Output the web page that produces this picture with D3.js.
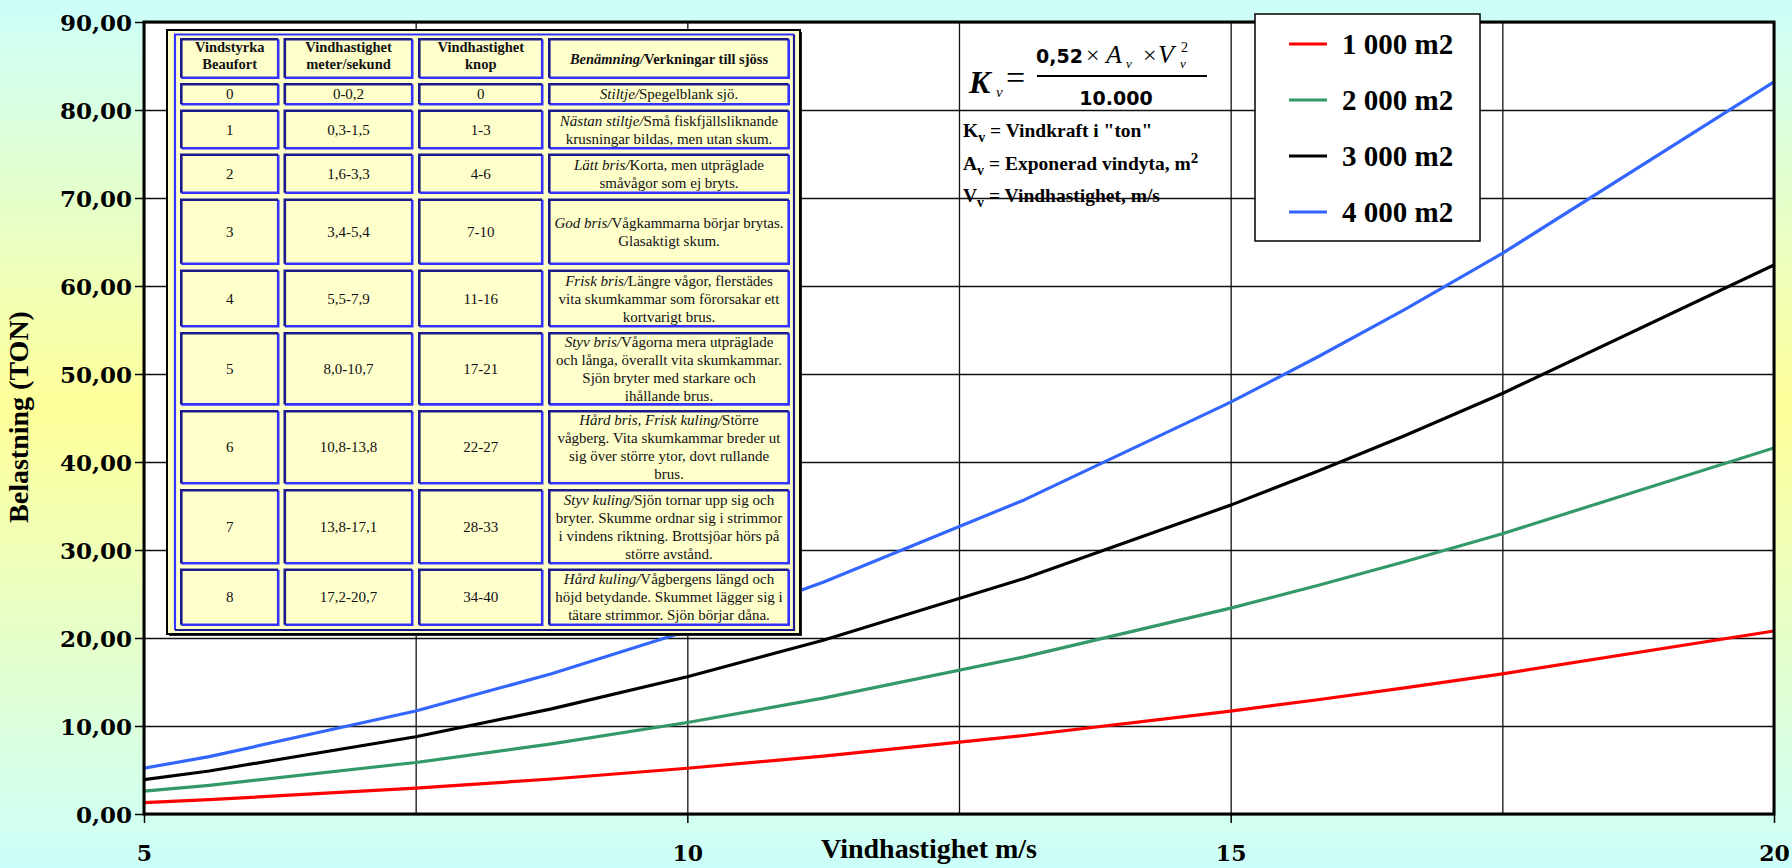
<!DOCTYPE html>
<html>
<head>
<meta charset="utf-8">
<script src="https://cdn.jsdelivr.net/npm/d3@7"></script>
<style>
  html, body { margin: 0; padding: 0; background: #ffffff; }
  svg { display: block; }
</style>
</head>
<body>
<svg id="chart" width="1792" height="868"></svg>
<script>
// ---- Data -------------------------------------------------------------
// Wind speed (m/s) at each plotted point
const windSpeed = [5, 5.6, 7.5, 8.75, 10, 11.25, 13.1, 15, 15.8, 16.6, 17.5, 20];
// Wind load (ton) for each exposed area
const load1000 = [1.30, 1.63, 2.93, 3.98, 5.20, 6.58, 8.92, 11.70, 12.98, 14.33, 15.93, 20.80];
const load2000 = [2.60, 3.26, 5.85, 7.96, 10.40, 13.16, 17.85, 23.40, 25.96, 28.66, 31.85, 41.60];
const load3000 = [3.90, 4.89, 8.78, 11.94, 15.60, 19.74, 26.77, 35.10, 38.94, 42.99, 47.78, 62.40];
const load4000 = [5.20, 6.52, 11.70, 15.93, 20.80, 26.33, 35.69, 46.80, 51.93, 57.32, 63.70, 83.20];
const seriesNames = ["1 000 m2", "2 000 m2", "3 000 m2", "4 000 m2"];

const yTicks = [0, 10, 20, 30, 40, 50, 60, 70, 80, 90];
const xTicks = [5, 10, 15, 20];
const xGrid = [5, 7.5, 10, 12.5, 15, 17.5, 20];

// Beaufort table
const beaufortHeader = [["Vindstyrka", "Beaufort"], ["Vindhastighet", "meter/sekund"], ["Vindhastighet", "knop"]];
const beaufortForce = ["0", "1", "2", "3", "4", "5", "6", "7", "8"];
const beaufortMs = ["0-0,2", "0,3-1,5", "1,6-3,3", "3,4-5,4", "5,5-7,9", "8,0-10,7", "10,8-13,8", "13,8-17,1", "17,2-20,7"];
const beaufortKnots = ["0", "1-3", "4-6", "7-10", "11-16", "17-21", "22-27", "28-33", "34-40"];
const beaufortNames = ["Stiltje/", "Nästan stiltje/", "Lätt bris/", "God bris/", "Frisk bris/", "Styv bris/",
  "Hård bris, Frisk kuling/", "Styv kuling/", "Hård kuling/"];
const beaufortEffects = [
  ["Spegelblank sjö."],
  ["Små fiskfjällsliknande", "krusningar bildas, men utan skum."],
  ["Korta, men utpräglade", "småvågor som ej bryts."],
  ["Vågkammarna börjar brytas.", "Glasaktigt skum."],
  ["Längre vågor, flerstädes", "vita skumkammar som förorsakar ett", "kortvarigt brus."],
  ["Vågorna mera utpräglade", "och långa, överallt vita skumkammar.", "Sjön bryter med starkare och", "ihållande brus."],
  ["Större", "vågberg. Vita skumkammar breder ut", "sig över större ytor, dovt rullande", "brus."],
  ["Sjön tornar upp sig och", "bryter. Skumme ordnar sig i strimmor", "i vindens riktning. Brottsjöar hörs på", "större avstånd."],
  ["Vågbergens längd och", "höjd betydande. Skummet lägger sig i", "tätare strimmor. Sjön börjar dåna."]
];

// ---- Layout & style ----------------------------------------------------
const W = 1792, H = 868;
const plot = { left: 144, right: 1774, top: 22, bottom: 814 };
const colors = ["#ff0000", "#339966", "#000000", "#3366ff"];
const serif = "'Liberation Serif', 'Times New Roman', serif";
const tickFont = "'DejaVu Serif', serif";

const svg = d3.select("#chart");

// page background: cyan - yellow - cyan
const defs = svg.append("defs");
const grad = defs.append("linearGradient").attr("id", "bg").attr("x1", 0).attr("y1", 0).attr("x2", 0).attr("y2", 1);
grad.append("stop").attr("offset", "0%").attr("stop-color", "#ccfffa");
grad.append("stop").attr("offset", "47%").attr("stop-color", "#ffff99");
grad.append("stop").attr("offset", "100%").attr("stop-color", "#ccfffa");
svg.append("rect").attr("width", W).attr("height", H).attr("fill", "url(#bg)");

defs.append("clipPath").attr("id", "plotClip").append("rect")
  .attr("x", plot.left).attr("y", plot.top)
  .attr("width", plot.right - plot.left).attr("height", plot.bottom - plot.top);

const x = d3.scaleLinear().domain([5, 20]).range([plot.left, plot.right]);
const y = d3.scaleLinear().domain([0, 90]).range([plot.bottom, plot.top]);

// plot area
svg.append("rect").attr("x", plot.left).attr("y", plot.top)
  .attr("width", plot.right - plot.left).attr("height", plot.bottom - plot.top)
  .attr("fill", "#ffffff");

// gridlines
const gridV = svg.append("g").attr("transform", `translate(0,${plot.bottom})`)
  .call(d3.axisBottom(x).tickValues(xGrid).tickSize(-(plot.bottom - plot.top)).tickFormat(""));
const gridH = svg.append("g").attr("transform", `translate(${plot.left},0)`)
  .call(d3.axisLeft(y).tickValues(yTicks).tickSize(-(plot.right - plot.left)).tickFormat(""));
[gridV, gridH].forEach(g => {
  g.select(".domain").remove();
  g.selectAll("line").attr("stroke", "#111").attr("stroke-width", 1.3);
});

// series lines
const seriesData = [load1000, load2000, load3000, load4000];
const line = d3.line().x((d, i) => x(windSpeed[i])).y(d => y(d));
svg.append("g").attr("clip-path", "url(#plotClip)")
  .selectAll("path").data(seriesData).join("path")
  .attr("d", d => line(d))
  .attr("fill", "none")
  .attr("stroke", (d, i) => colors[i])
  .attr("stroke-width", 3.2)
  .attr("stroke-linejoin", "round");

// plot border
svg.append("rect").attr("x", plot.left).attr("y", plot.top)
  .attr("width", plot.right - plot.left).attr("height", plot.bottom - plot.top)
  .attr("fill", "none").attr("stroke", "#000").attr("stroke-width", 3);

// y axis
const fmt = v => d3.format(".2f")(v).replace(".", ",");
const yAxis = svg.append("g").attr("transform", `translate(${plot.left},0)`)
  .call(d3.axisLeft(y).tickValues(yTicks).tickSize(9).tickPadding(3).tickFormat(fmt));
yAxis.select(".domain").remove();
yAxis.selectAll("line").attr("stroke", "#000").attr("stroke-width", 1.5);
yAxis.selectAll("text").attr("font-family", tickFont).attr("font-weight", "bold")
  .attr("font-size", 23).attr("fill", "#000").attr("dy", "0.36em");

// x axis
const xAxis = svg.append("g").attr("transform", `translate(0,${plot.bottom})`)
  .call(d3.axisBottom(x).tickValues(xTicks).tickSize(9).tickFormat(d3.format("d")));
xAxis.select(".domain").remove();
xAxis.selectAll("line").attr("stroke", "#000").attr("stroke-width", 1.5);
xAxis.selectAll("text").attr("font-family", tickFont).attr("font-weight", "bold")
  .attr("font-size", 22).attr("fill", "#000").attr("y", 47).attr("dy", 0);

// axis titles
svg.append("text").attr("x", 929).attr("y", 858).attr("text-anchor", "middle")
  .attr("font-family", serif).attr("font-weight", "bold").attr("font-size", 28)
  .text("Vindhastighet m/s");
svg.append("text").attr("transform", "translate(28,417) rotate(-90)").attr("text-anchor", "middle")
  .attr("font-family", serif).attr("font-weight", "bold").attr("font-size", 28)
  .text("Belastning (TON)");

// ---- Beaufort table -----------------------------------------------------
const frame = { x: 167, y: 30, w: 633, h: 604 };
const tbox = { x: 175, y: 34.5, w: 619, h: 595.5 };
const cols = [[180, 279.5], [283.5, 413.5], [418, 543.5], [548, 790]];
const rows = [[38, 79], [83, 105.5], [109.5, 149.5], [153.5, 194], [198.5, 265], [269.5, 327.5],
  [332, 405.7], [410, 484.5], [489, 564.5], [568.5, 626]];
const navy = "#1a1a8c", blue = "#3333ff", cellFill = "#ffffcc";

const tg = svg.append("g").attr("class", "beaufort");
tg.append("rect").attr("x", frame.x + 2).attr("y", frame.y + 2).attr("width", frame.w).attr("height", frame.h)
  .attr("fill", "#222");
tg.append("rect").attr("x", frame.x).attr("y", frame.y).attr("width", frame.w).attr("height", frame.h)
  .attr("fill", cellFill).attr("stroke", "#000").attr("stroke-width", 2);
// outer table border (light top/left, dark bottom/right)
const tb = tbox;
tg.append("path").attr("d", `M${tb.x},${tb.y + tb.h}V${tb.y}H${tb.x + tb.w}`)
  .attr("fill", "none").attr("stroke", blue).attr("stroke-width", 2.2);
tg.append("path").attr("d", `M${tb.x + tb.w},${tb.y}V${tb.y + tb.h}H${tb.x}`)
  .attr("fill", "none").attr("stroke", navy).attr("stroke-width", 2.2);

function cell(c, r) {
  const [x0, x1] = cols[c], [y0, y1] = rows[r];
  const bw = 2.6, h = bw / 2;
  tg.append("rect").attr("x", x0).attr("y", y0).attr("width", x1 - x0).attr("height", y1 - y0).attr("fill", cellFill);
  tg.append("path").attr("d", `M${x1 - h},${y0 + h}V${y1 - h}H${x0 + h}`)
    .attr("fill", "none").attr("stroke", blue).attr("stroke-width", bw);
  tg.append("path").attr("d", `M${x0 + h},${y1 - h}V${y0 + h}H${x1 - h}`)
    .attr("fill", "none").attr("stroke", navy).attr("stroke-width", bw);
  return { cx: (x0 + x1) / 2, cy: (y0 + y1) / 2 };
}

const bodySize = 15, bodyLead = 18;
// header row
beaufortHeader.forEach((lines, c) => {
  const p = cell(c, 0);
  const t = tg.append("text").attr("text-anchor", "middle").attr("font-family", serif)
    .attr("font-weight", "bold").attr("font-size", 14.5).attr("fill", "#111");
  lines.forEach((ln, i) => t.append("tspan").attr("x", p.cx).attr("y", p.cy - 3 + (i - 0.5) * 16.5 + 5).text(ln));
});
{
  const p = cell(3, 0);
  const t = tg.append("text").attr("x", p.cx).attr("y", p.cy + 5).attr("text-anchor", "middle")
    .attr("font-family", serif).attr("font-weight", "bold").attr("font-size", 14.5).attr("fill", "#111");
  t.append("tspan").attr("font-style", "italic").text("Benämning/");
  t.append("tspan").text("Verkningar till sjöss");
}
// body rows
beaufortForce.forEach((f, i) => {
  const r = i + 1;
  [f, beaufortMs[i], beaufortKnots[i]].forEach((val, c) => {
    const p = cell(c, r);
    tg.append("text").attr("x", p.cx).attr("y", p.cy + 5).attr("text-anchor", "middle")
      .attr("font-family", serif).attr("font-size", bodySize).attr("fill", "#111").text(val);
  });
  const p = cell(3, r);
  const lines = beaufortEffects[i];
  const y0 = p.cy - (lines.length - 1) * bodyLead / 2 + 5;
  const t = tg.append("text").attr("text-anchor", "middle").attr("font-family", serif)
    .attr("font-size", bodySize).attr("fill", "#111");
  lines.forEach((ln, k) => {
    const row = t.append("tspan").attr("x", p.cx).attr("y", y0 + k * bodyLead);
    if (k === 0) {
      row.append("tspan").attr("font-style", "italic").text(beaufortNames[i]);
      t.append("tspan").text(ln);
    } else {
      row.text(ln);
    }
  });
});

// ---- Formula --------------------------------------------------------------
const fg = svg.append("g").attr("class", "formula").attr("fill", "#000");
const mathSans = "'DejaVu Sans', sans-serif";
function ft(xp, yp, txt, size, opts = {}) {
  return fg.append("text").attr("x", xp).attr("y", yp).attr("font-size", size)
    .attr("font-family", opts.family || serif)
    .attr("font-style", opts.italic ? "italic" : "normal")
    .attr("font-weight", opts.bold ? "bold" : "normal")
    .attr("text-anchor", opts.anchor || "start")
    .text(txt);
}
ft(969, 93, "K", 32, { italic: true, bold: true });
ft(996, 97, "v", 15, { italic: true });
ft(1006, 89, "=", 34, {});
fg.append("line").attr("x1", 1037).attr("x2", 1207).attr("y1", 76).attr("y2", 76)
  .attr("stroke", "#000").attr("stroke-width", 2);
ft(1036, 63, "0,52", 19, { family: mathSans, bold: true });
ft(1086, 63, "×", 24, {});
ft(1106, 63, "A", 26, { italic: true });
ft(1126, 68, "v", 13, { italic: true });
ft(1143, 63, "×", 24, {});
ft(1158, 63, "V", 26, { italic: true });
ft(1181, 52, "2", 14, {});
ft(1180, 68, "v", 13, { italic: true });
ft(1116, 105, "10.000", 19, { family: mathSans, bold: true, anchor: "middle" });

// variable definitions
const defLines = [
  { sym: "K", text: " = Vindkraft i \"ton\"", sup: null },
  { sym: "A", text: " = Exponerad vindyta, m", sup: "2" },
  { sym: "V", text: " = Vindhastighet, m/s", sup: null }
];
const defY = [137, 170, 202];
defLines.forEach((d, i) => {
  const t = fg.append("text").attr("x", 963).attr("y", defY[i]).attr("font-family", serif)
    .attr("font-weight", "bold").attr("font-size", 19.5);
  t.append("tspan").text(d.sym);
  t.append("tspan").attr("font-size", 14).attr("dy", 5).text("v");
  t.append("tspan").attr("dy", -5).text(d.text);
  if (d.sup) t.append("tspan").attr("font-size", 15).attr("dy", -7).text(d.sup);
});

// ---- Legend ---------------------------------------------------------------
const lg = svg.append("g").attr("class", "legend");
lg.append("rect").attr("x", 1255).attr("y", 14).attr("width", 225).attr("height", 227)
  .attr("fill", "#ffffff").attr("stroke", "#000").attr("stroke-width", 1.5);
const legendY = d3.scalePoint().domain(seriesNames).range([44, 212]);
const items = lg.selectAll("g.item").data(seriesNames).join("g").attr("class", "item")
  .attr("transform", d => `translate(0,${legendY(d)})`);
items.append("line").attr("x1", 1289).attr("x2", 1327).attr("y1", 0).attr("y2", 0)
  .attr("stroke", (d, i) => colors[i]).attr("stroke-width", 3);
items.append("text").attr("x", 1342).attr("y", 10).attr("font-family", serif)
  .attr("font-weight", "bold").attr("font-size", 29).text(d => d);
</script>
</body>
</html>
